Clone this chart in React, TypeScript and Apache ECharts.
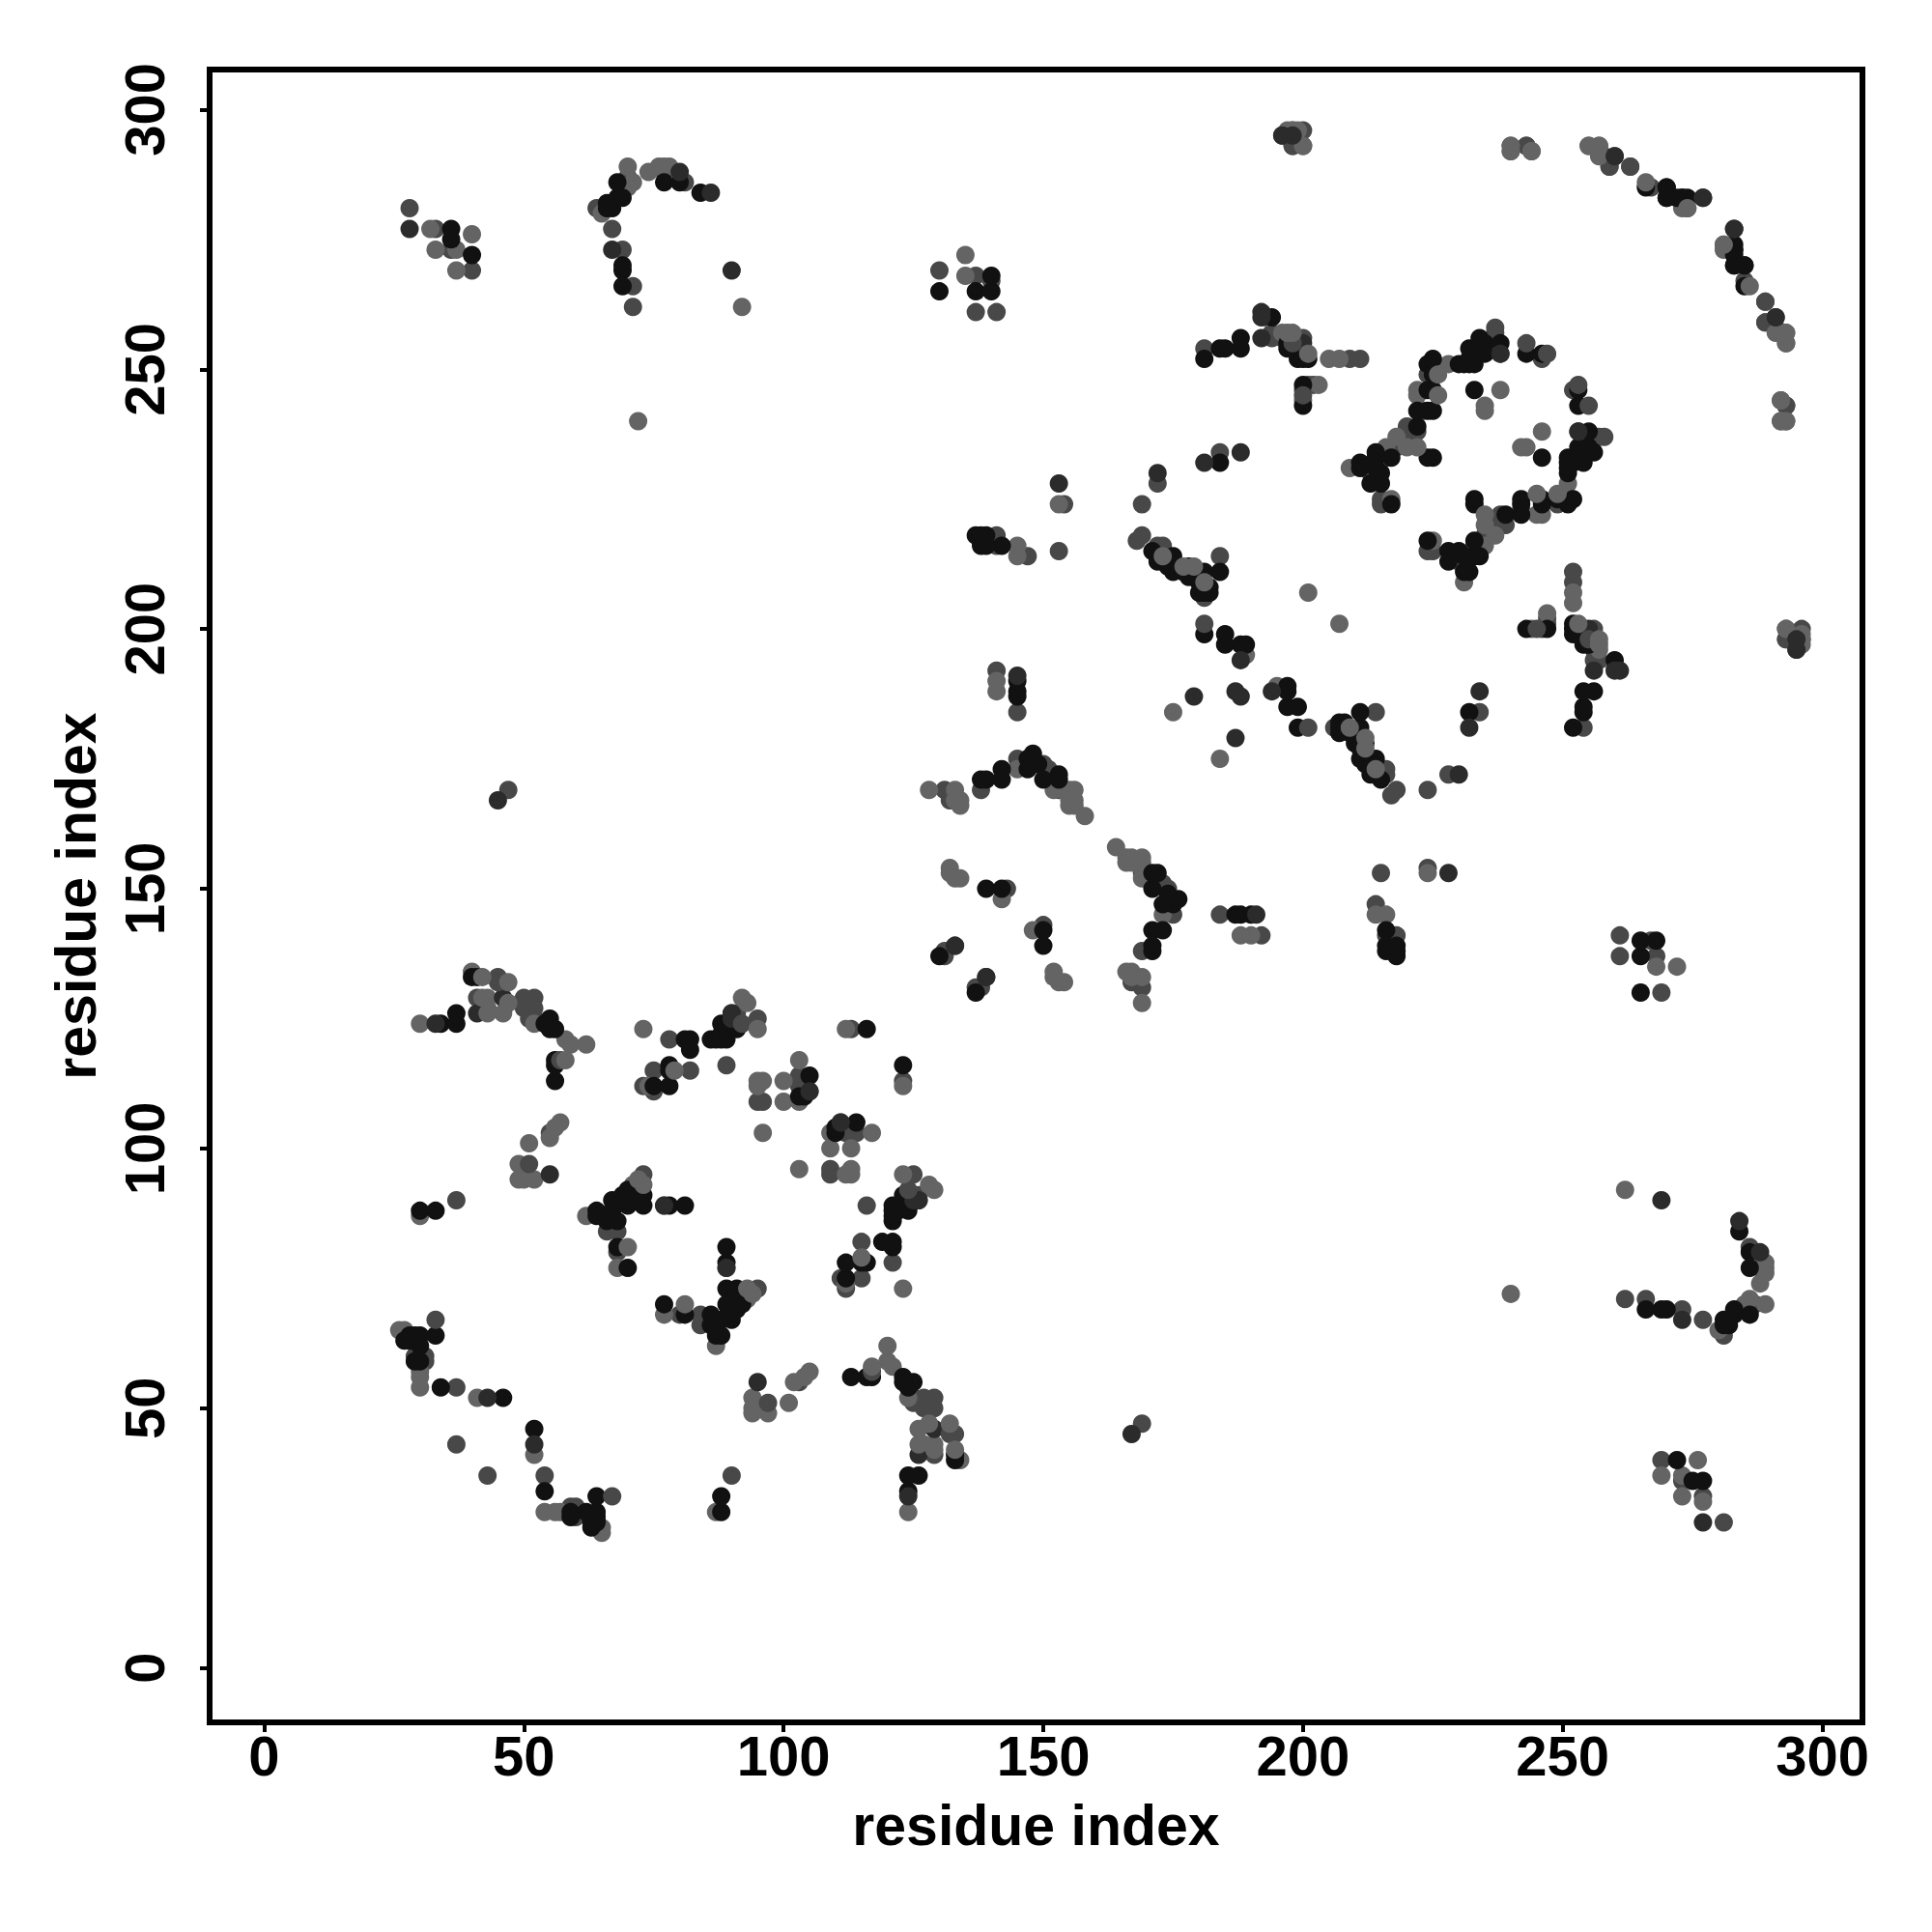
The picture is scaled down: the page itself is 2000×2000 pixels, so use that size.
import React, { useEffect, useRef } from "react";
import * as echarts from "echarts";

const tickValues = [0, 50, 100, 150, 200, 250, 300];
const axisTitle = "residue index";

type P = [number, number];

const lightUpper: P[] = [[30,124],[40,134],[43,129],[43,127],[58,121],[59,120],[62,120],[52,124],[73,123],[74,112],[57,105],[56,104],[55,102],[51,101],[49,97],[49,94],[50,94],[52,94],[30,87],[62,87],[71,93],[68,77],[77,89],[92,129],[93,128],[95,113],[96,113],[95,112],[96,103],[100,113],[100,109],[103,117],[103,109],[112,123],[26,65],[27,65],[30,56],[30,54],[30,57],[41,52],[72,240],[92,262],[33,273],[32,277],[40,276],[37,273],[37,269],[65,280],[70,289],[71,286],[74,288],[76,289],[77,289],[78,289],[70,285],[135,272],[135,268],[128,169],[133,167],[134,167],[133,169],[132,154],[132,153],[133,152],[134,152],[142,148],[145,173],[152,169],[154,169],[155,169],[155,166],[156,166],[158,164],[141,190],[141,188],[145,216],[145,214],[153,224],[175,184],[201,207],[189,195],[205,252],[207,252],[196,257],[203,247],[200,244],[193,260],[209,231],[222,246],[222,245],[217,225],[228,251],[235,243],[235,242],[238,246],[216,235],[240,292],[244,292],[255,293],[257,293],[257,291],[273,281],[274,281],[293,257],[293,255],[292,244],[292,240],[293,240],[293,200],[296,199],[296,198],[197,296]];
const lightLower: P[] = [[124,30],[134,40],[129,43],[127,43],[121,58],[120,59],[120,62],[124,52],[123,73],[112,74],[105,57],[104,56],[102,55],[101,51],[97,49],[94,49],[94,50],[94,52],[87,30],[87,62],[93,71],[77,68],[89,77],[129,92],[128,93],[113,95],[113,96],[112,95],[103,96],[113,100],[109,100],[117,103],[109,103],[123,112],[65,26],[65,27],[56,30],[54,30],[57,30],[52,41],[240,72],[262,92],[273,33],[277,32],[276,40],[273,37],[269,37],[280,65],[289,70],[286,71],[288,74],[289,76],[289,77],[289,78],[285,70],[272,135],[268,135],[169,128],[167,133],[167,134],[169,133],[154,132],[153,132],[152,133],[152,134],[148,142],[173,145],[169,152],[169,154],[169,155],[166,155],[166,156],[164,158],[190,141],[188,141],[216,145],[214,145],[224,153],[184,175],[207,201],[195,189],[252,205],[252,207],[257,196],[247,203],[244,200],[260,193],[231,209],[246,222],[245,222],[225,217],[251,228],[243,235],[242,235],[246,238],[235,216],[292,240],[292,244],[293,255],[293,257],[291,257],[281,273],[281,274],[257,293],[255,293],[244,292],[240,292],[240,293],[200,293],[199,296],[198,296],[296,197]];

const midUpper: P[] = [[28,281],[33,277],[40,269],[36,273],[67,277],[69,273],[71,266],[71,262],[47,169],[130,269],[137,268],[140,267],[137,261],[141,261],[64,281],[70,287],[77,288],[81,286],[141,192],[45,133],[41,129],[50,129],[50,127],[52,127],[52,125],[51,125],[78,121],[75,115],[82,115],[75,111],[73,112],[55,103],[37,90],[37,43],[37,54],[31,60],[31,59],[30,58],[29,60],[68,80],[66,84],[68,84],[90,126],[91,126],[90,125],[95,125],[89,116],[95,109],[96,109],[103,114],[103,112],[105,111],[113,123],[131,169],[132,167],[138,169],[145,175],[150,174],[151,173],[143,150],[131,138],[131,137],[153,169],[145,184],[153,215],[147,214],[141,218],[141,216],[154,224],[169,224],[172,228],[169,218],[168,217],[172,216],[173,216],[184,214],[181,254],[181,206],[196,256],[194,256],[201,247],[202,247],[209,252],[211,252],[184,234],[213,230],[215,225],[215,224],[216,233],[218,235],[220,239],[220,237],[222,238],[223,242],[224,249],[237,258],[237,257],[237,256],[238,253],[246,252],[200,246],[200,256],[194,257],[259,289],[263,289],[267,285],[260,291],[243,293],[240,293],[289,263],[289,259],[291,258],[293,243],[293,198],[196,295],[198,296],[200,296],[198,293],[200,293],[199,294]];
const midLower: P[] = [[281,28],[277,33],[269,40],[273,36],[277,67],[273,69],[266,71],[262,71],[169,47],[269,130],[268,137],[267,140],[261,137],[261,141],[281,64],[287,70],[288,77],[286,81],[192,141],[133,45],[129,41],[129,50],[127,50],[127,52],[125,52],[125,51],[121,78],[115,75],[115,82],[111,75],[112,73],[103,55],[90,37],[43,37],[54,37],[60,31],[59,31],[58,30],[60,29],[80,68],[84,66],[84,68],[126,90],[126,91],[125,90],[125,95],[116,89],[109,95],[109,96],[114,103],[112,103],[111,105],[123,113],[169,131],[167,132],[169,138],[175,145],[174,150],[173,151],[150,143],[138,131],[137,131],[169,153],[184,145],[215,153],[214,147],[218,141],[216,141],[224,154],[224,169],[228,172],[218,169],[217,168],[216,172],[216,173],[214,184],[254,181],[206,181],[256,196],[256,194],[247,201],[247,202],[252,209],[252,211],[234,184],[230,213],[225,215],[224,215],[233,216],[235,218],[239,220],[237,220],[238,222],[242,223],[249,224],[258,237],[257,237],[256,237],[253,238],[252,246],[246,200],[256,200],[257,194],[289,259],[289,263],[285,267],[291,260],[293,243],[293,240],[263,289],[259,289],[258,291],[243,293],[198,293],[295,196],[296,198],[296,200],[293,198],[293,200],[294,199]];

const darkUpper: P[] = [[28,277],[90,269],[86,284],[80,288],[67,273],[45,167],[33,124],[46,129],[55,95],[89,77],[105,111],[126,90],[125,90],[133,139],[145,191],[188,194],[179,187],[188,234],[172,230],[181,232],[192,261],[192,260],[200,255],[153,228],[238,253],[277,283],[283,277],[291,260],[295,196],[295,198],[192,256],[43,52],[41,126],[187,188],[139,133]];
const darkLower: P[] = [[277,28],[269,90],[284,86],[288,80],[273,67],[167,45],[124,33],[129,46],[95,55],[77,89],[111,105],[90,126],[90,125],[139,133],[191,145],[194,188],[187,179],[234,188],[230,172],[232,181],[261,192],[260,192],[255,200],[228,153],[253,238],[283,277],[277,283],[260,291],[196,295],[198,295],[256,192],[52,43],[126,41],[188,187],[133,139]];

const blackUpper: P[] = [[34,124],[37,124],[37,126],[41,133],[40,133],[54,124],[55,125],[55,123],[56,123],[56,117],[56,116],[56,113],[81,121],[82,121],[82,119],[78,116],[78,115],[75,112],[78,112],[30,88],[33,88],[64,88],[64,87],[65,87],[66,86],[67,90],[67,88],[68,86],[69,91],[70,92],[71,91],[73,91],[73,89],[70,89],[68,81],[70,77],[78,89],[81,89],[86,121],[87,121],[88,121],[89,121],[88,122],[89,123],[88,124],[91,123],[91,124],[103,110],[104,110],[105,114],[116,123],[33,64],[30,64],[29,64],[28,64],[27,63],[28,63],[30,62],[30,59],[29,59],[34,54],[46,52],[66,282],[66,281],[67,281],[68,283],[68,286],[69,283],[77,286],[80,286],[84,284],[36,277],[36,275],[40,272],[69,270],[69,269],[69,266],[130,265],[137,265],[140,265],[140,268],[138,171],[139,171],[142,171],[142,173],[147,175],[148,176],[147,173],[149,174],[150,171],[153,172],[153,171],[137,218],[138,218],[138,216],[142,216],[139,216],[139,218],[139,150],[142,150],[130,137],[145,188],[145,190],[145,187],[171,215],[172,213],[174,212],[175,214],[175,211],[178,212],[178,210],[178,211],[177,211],[180,211],[181,211],[184,211],[180,209],[182,208],[180,207],[182,207],[181,207],[181,199],[185,199],[185,197],[188,197],[189,197],[181,252],[184,254],[185,254],[188,256],[188,254],[194,260],[197,254],[197,255],[199,252],[200,252],[201,252],[200,247],[200,243],[184,232],[211,232],[211,231],[214,234],[214,233],[214,231],[215,230],[215,228],[213,228],[217,233],[217,224],[222,239],[222,242],[224,233],[225,233],[224,251],[224,246],[224,242],[225,252],[225,249],[225,246],[225,242],[230,251],[231,251],[232,254],[232,252],[232,251],[233,252],[233,251],[234,256],[234,253],[235,255],[235,253],[238,255],[233,246],[243,253],[246,253],[270,285],[270,283],[273,283],[274,283],[283,273],[283,272],[283,270],[285,270],[285,266]];
const blackLower: P[] = [[124,34],[124,37],[126,37],[133,41],[133,40],[124,54],[125,55],[123,55],[123,56],[117,56],[116,56],[113,56],[121,81],[121,82],[119,82],[116,78],[115,78],[112,75],[112,78],[88,30],[88,33],[88,64],[87,64],[87,65],[86,66],[90,67],[88,67],[86,68],[91,69],[92,70],[91,71],[91,73],[89,73],[89,70],[81,68],[77,70],[89,78],[89,81],[121,86],[121,87],[121,88],[121,89],[122,88],[123,89],[124,88],[123,91],[124,91],[110,103],[110,104],[114,105],[123,116],[64,33],[64,30],[64,29],[64,28],[63,27],[63,28],[62,30],[59,30],[59,29],[54,34],[52,46],[282,66],[281,66],[281,67],[283,68],[286,68],[283,69],[286,77],[286,80],[284,84],[277,36],[275,36],[272,40],[270,69],[269,69],[266,69],[265,130],[265,137],[265,140],[268,140],[171,138],[171,139],[171,142],[173,142],[175,147],[176,148],[173,147],[174,149],[171,150],[172,153],[171,153],[218,137],[218,138],[216,138],[216,142],[216,139],[218,139],[150,139],[150,142],[137,130],[188,145],[190,145],[187,145],[215,171],[213,172],[212,174],[214,175],[211,175],[212,178],[210,178],[211,178],[211,177],[211,180],[211,181],[211,184],[209,180],[208,182],[207,180],[207,182],[207,181],[199,181],[199,185],[197,185],[197,188],[197,189],[252,181],[254,184],[254,185],[256,188],[254,188],[260,194],[254,197],[255,197],[252,199],[252,200],[252,201],[247,200],[243,200],[232,184],[232,211],[231,211],[234,214],[233,214],[231,214],[230,215],[228,215],[228,213],[233,217],[224,217],[239,222],[242,222],[233,224],[233,225],[251,224],[246,224],[242,224],[252,225],[249,225],[246,225],[242,225],[251,230],[251,231],[254,232],[252,232],[251,232],[252,233],[251,233],[256,234],[253,234],[255,235],[253,235],[255,238],[246,233],[253,243],[253,246],[285,270],[283,270],[283,273],[283,274],[273,283],[272,283],[270,283],[270,285],[266,285]];

const midFront: P[] = [[52,129],[129,52],[51,97],[97,51],[73,95],[95,73],[243,255],[255,243],[247,253],[253,247],[181,201],[201,181],[200,245],[245,200],[198,255],[255,198],[45,132],[132,45],[33,67],[67,33],[57,117],[117,57],[92,124],[124,92]];
const lightFront: P[] = [[212,179],[179,212],[181,209],[209,181],[70,81],[81,70],[58,117],[117,58],[47,132],[132,47],[42,133],[133,42],[47,128],[128,47],[42,129],[129,42],[46,126],[126,46],[43,126],[126,43],[73,93],[93,73],[72,94],[94,72],[201,253],[253,201],[197,257],[257,197],[198,257],[257,198],[218,237],[237,218],[281,274],[274,281],[286,266],[266,286],[95,123],[123,95],[79,115],[115,79],[173,214],[214,173],[177,212],[212,177],[222,235],[235,222],[220,235],[235,220],[226,245],[245,226],[226,249],[249,226],[134,166],[166,134],[156,167],[167,156],[156,169],[169,156],[155,167],[167,155]];

const shades: { name: string; color: string; data: P[] }[] = [
  { name: "mid", color: "#484848", data: [...midUpper, ...midLower] },
  { name: "light", color: "#646464", data: [...lightUpper, ...lightLower] },
  { name: "black", color: "#111111", data: [...blackUpper, ...blackLower] },
  { name: "dark", color: "#2b2b2b", data: [...darkUpper, ...darkLower] },
  { name: "midFront", color: "#484848", data: midFront },
  { name: "lightFront", color: "#646464", data: lightFront },
];

export default function App() {
  const ref = useRef<HTMLDivElement>(null);
  useEffect(() => {
    document.body.style.margin = "0";
    const chart = echarts.init(ref.current!, undefined, { renderer: "svg" });
    const font = "Liberation Sans";
    const common = {
      type: "value" as const,
      min: -10.5,
      max: 307.7,
      nameLocation: "middle" as const,
      name: axisTitle,
      splitLine: { show: false },
      axisLine: { show: false, onZero: false },
      axisTick: { show: true, length: 10, lineStyle: { color: "#000", width: 4 }, customValues: tickValues },
    };
    const labelStyle = { fontFamily: font, fontWeight: "bold" as const, fontSize: 58, color: "#000" };
    const titleStyle = { fontFamily: font, fontWeight: "bold" as const, fontSize: 59, color: "#000" };
    chart.setOption({
      animation: false,
      backgroundColor: "#fff",
      grid: { show: true, left: 217, top: 72, width: 1711, height: 1711, borderColor: "#000", borderWidth: 6, backgroundColor: "transparent", containLabel: false },
      xAxis: {
        ...common,
        nameGap: 77,
        nameTextStyle: titleStyle,
        axisLabel: { ...labelStyle, margin: 5, customValues: tickValues, formatter: (v: number) => String(v), hideOverlap: false },
      },
      yAxis: {
        ...common,
        nameGap: 109,
        nameTextStyle: titleStyle,
        axisLabel: { ...labelStyle, rotate: 90, margin: 39, customValues: tickValues, formatter: (v: number) => String(v), hideOverlap: false, align: "center", verticalAlign: "bottom" },
      },
      series: shades.map((s) => ({
        type: "scatter",
        name: s.name,
        data: s.data,
        symbolSize: 19,
        itemStyle: { color: s.color, opacity: 1 },
        silent: true,
      })),
    });
    return () => chart.dispose();
  }, []);
  return <div ref={ref} style={{ width: 2000, height: 2000 }} />;
}
